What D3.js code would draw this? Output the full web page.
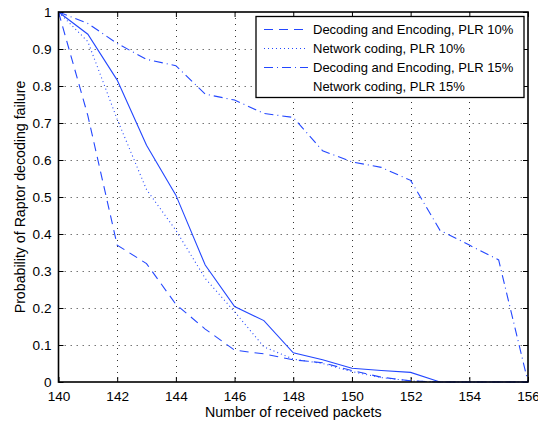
<!DOCTYPE html>
<html>
<head>
<meta charset="utf-8">
<script src="https://cdn.jsdelivr.net/npm/d3@7"></script>
<style>
  html, body { margin: 0; padding: 0; background: #fff; }
  svg text { font-family: "Liberation Sans", Arial, Helvetica, sans-serif; fill: #000; }
</style>
</head>
<body>
<svg id="chart" width="538" height="421"></svg>
<script>
// Number of received packets (x) and failure probabilities per scheme
const packets = [140, 141, 142, 143, 144, 145, 146, 147, 148, 149, 150, 151, 152, 153, 154, 155, 156];
const decEnc10 = [1, 0.72, 0.37, 0.32, 0.21, 0.143, 0.086, 0.076, 0.06, 0.052, 0.031, 0.013, 0.003, 0, 0, 0, 0];
const netCod10 = [1, 0.92, 0.71, 0.52, 0.41, 0.28, 0.19, 0.095, 0.062, 0.05, 0.028, 0.012, 0.003, 0, 0, 0, 0];
const decEnc15 = [1, 0.969, 0.915, 0.872, 0.855, 0.778, 0.762, 0.726, 0.715, 0.625, 0.595, 0.58, 0.545, 0.41, 0.37, 0.33, 0];
const netCod15 = [1, 0.94, 0.816, 0.64, 0.505, 0.316, 0.204, 0.166, 0.079, 0.06, 0.037, 0.031, 0.026, 0, 0, 0, 0];

const seriesNames = [
  "Decoding and Encoding, PLR 10%",
  "Network coding, PLR 10%",
  "Decoding and Encoding, PLR 15%",
  "Network coding, PLR 15%"
];
const seriesValues = [decEnc10, netCod10, decEnc15, netCod15];
const dashStyles = ["9,6", "1,3", "9,4,1,4", null];

const xTicks = [140, 142, 144, 146, 148, 150, 152, 154, 156];
const yTicks = [0, 0.1, 0.2, 0.3, 0.4, 0.5, 0.6, 0.7, 0.8, 0.9, 1];
const yTickLabels = ["0", "0.1", "0.2", "0.3", "0.4", "0.5", "0.6", "0.7", "0.8", "0.9", "1"];

const lineColor = "#2347ff";
const plotL = 58.5, plotR = 528, plotT = 12, plotB = 382;

const svg = d3.select("#chart");
const x = d3.scaleLinear().domain([140, 156]).range([plotL, plotR]);
const y = d3.scaleLinear().domain([0, 1]).range([plotB, plotT]);

// Grid
const grid = svg.append("g");
grid.selectAll(".gx").data(xTicks.slice(1, -1)).join("line")
  .attr("x1", d => Math.round(x(d)) + 0.5).attr("x2", d => Math.round(x(d)) + 0.5)
  .attr("y1", plotT).attr("y2", plotB)
  .attr("stroke", "#333").attr("stroke-width", 1).attr("stroke-dasharray", "1,5");
grid.selectAll(".gy").data(yTicks.slice(1, -1)).join("line")
  .attr("x1", plotL).attr("x2", plotR)
  .attr("y1", d => Math.round(y(d)) + 0.5).attr("y2", d => Math.round(y(d)) + 0.5)
  .attr("stroke", "#777").attr("stroke-width", 1).attr("stroke-dasharray", "1.5,4.5");

// Axes with inward ticks on all four sides
const tickLen = 5;
const axB = svg.append("g").attr("transform", `translate(0,${plotB})`)
  .call(d3.axisBottom(x).tickValues(xTicks).tickSize(-tickLen).tickPadding(9).tickFormat(d3.format("d")));
const axT = svg.append("g").attr("transform", `translate(0,${plotT})`)
  .call(d3.axisTop(x).tickValues(xTicks).tickSize(-tickLen).tickFormat(""));
const axL = svg.append("g").attr("transform", `translate(${plotL},0)`)
  .call(d3.axisLeft(y).tickValues(yTicks).tickSize(-tickLen).tickPadding(7)
    .tickFormat((d, i) => yTickLabels[i]));
const axR = svg.append("g").attr("transform", `translate(${plotR},0)`)
  .call(d3.axisRight(y).tickValues(yTicks).tickSize(-tickLen).tickFormat(""));
[axB, axT, axL, axR].forEach(a => {
  a.select(".domain").remove();
  a.selectAll("line").attr("stroke", "#000");
  a.selectAll("text").attr("font-size", 13.6).style("font-family", '"Liberation Sans", Arial, sans-serif');
});

// Series lines
const lineGen = d3.line().x((d, i) => x(packets[i])).y(d => y(d));
seriesValues.forEach((vals, k) => {
  const p = svg.append("path").datum(vals)
    .attr("d", lineGen)
    .attr("fill", "none")
    .attr("stroke", lineColor)
    .attr("stroke-width", 1.1);
  if (dashStyles[k]) p.attr("stroke-dasharray", dashStyles[k]);
});

// Axes box
svg.append("rect")
  .attr("x", plotL).attr("y", plotT)
  .attr("width", plotR - plotL).attr("height", plotB - plotT)
  .attr("fill", "none").attr("stroke", "#000").attr("stroke-width", 1.6);

// Axis titles
svg.append("text")
  .attr("x", (plotL + plotR) / 2).attr("y", 417)
  .attr("text-anchor", "middle").attr("font-size", 14.2)
  .text("Number of received packets");
svg.append("text")
  .attr("transform", `translate(25,${(plotT + plotB) / 2}) rotate(-90)`)
  .attr("text-anchor", "middle").attr("font-size", 14.2)
  .text("Probability of Raptor decoding failure");

// Legend (the solid series has no key line drawn)
const lg = svg.append("g");
lg.append("rect")
  .attr("x", 256).attr("y", 16.5).attr("width", 268).attr("height", 81)
  .attr("fill", "#fff").attr("stroke", "#000").attr("stroke-width", 1.3);
seriesNames.forEach((name, k) => {
  const yy = 29.5 + k * 19;
  if (dashStyles[k]) {
    lg.append("line")
      .attr("x1", 264).attr("x2", 308).attr("y1", yy).attr("y2", yy)
      .attr("stroke", lineColor).attr("stroke-width", 1.1)
      .attr("stroke-dasharray", dashStyles[k]);
  }
  lg.append("text")
    .attr("x", 313).attr("y", yy + 4.5)
    .attr("font-size", 13)
    .text(name);
});
</script>
</body>
</html>
